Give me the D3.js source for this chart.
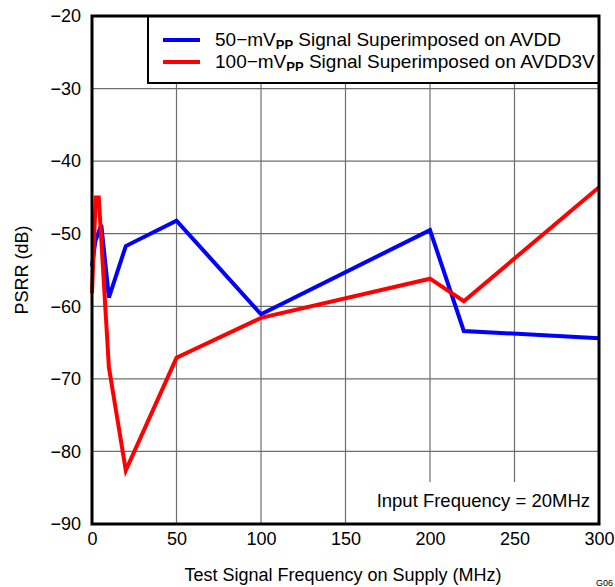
<!DOCTYPE html>
<html><head><meta charset="utf-8">
<script src="https://cdn.jsdelivr.net/npm/d3@7"></script>
<style>body{margin:0;background:#fff;} svg{display:block;font-family:"Liberation Sans",Arial,sans-serif;}</style>
</head><body>
<svg id="c" width="615" height="587"></svg>
<script>
const blueFreq = [0, 2, 5.5, 10, 20, 50, 100, 200, 220, 300];
const blueVals = [-54.5, -51, -48.8, -58.8, -51.7, -48.2, -61.1, -49.5, -63.4, -64.4];
const redFreq = [0, 2.2, 4, 10, 20, 50, 100, 200, 220, 300];
const redVals = [-58.2, -45, -45, -68.4, -82.6, -67.1, -61.6, -56.2, -59.3, -43.6];
const xTicks = [0, 50, 100, 150, 200, 250, 300];
const yTicks = [-90, -80, -70, -60, -50, -40, -30, -20];
const seriesNames = ["50\u2212mV", "100\u2212mV"];
const seriesTails = [" Signal Superimposed on AVDD", " Signal Superimposed on AVDD3V"];
const colors = ["#0000ff", "#ff0000"];

const svg = d3.select("#c");
const L = 92, R = 599, T = 16, B = 524;
const FS = 18;
const x = d3.scaleLinear().domain([0, 300]).range([L, R]);
const y = d3.scaleLinear().domain([-90, -20]).range([B, T]);

// grid
svg.append("g").selectAll("line").data(xTicks.slice(1, -1)).join("line")
  .attr("x1", d => x(d)).attr("x2", d => x(d)).attr("y1", T).attr("y2", B)
  .attr("stroke", "#6e6e6e").attr("stroke-width", 1.2);
svg.append("g").selectAll("line").data(yTicks.slice(1, -1)).join("line")
  .attr("x1", L).attr("x2", R).attr("y1", d => y(d)).attr("y2", d => y(d))
  .attr("stroke", "#6e6e6e").attr("stroke-width", 1.2);

// white annotation box
svg.append("rect").attr("x", 366).attr("y", 482).attr("width", R - 366).attr("height", B - 482).attr("fill", "#fff");
svg.append("text").attr("x", 590).attr("y", 507).attr("text-anchor", "end")
  .attr("font-size", 18.5).text("Input Frequency = 20MHz");

// lines
const line = d3.line().x(d => x(d[0])).y(d => y(d[1]));
const blue = blueFreq.map((f, i) => [f, blueVals[i]]);
const red = redFreq.map((f, i) => [f, redVals[i]]);
svg.append("path").datum(blue).attr("d", line).attr("fill", "none")
  .attr("stroke", colors[0]).attr("stroke-width", 4).attr("stroke-linejoin", "miter");
svg.append("path").datum(red).attr("d", line).attr("fill", "none")
  .attr("stroke", colors[1]).attr("stroke-width", 4).attr("stroke-linejoin", "miter");

// legend
const lg = svg.append("g");
lg.append("rect").attr("x", 148).attr("y", T).attr("width", R - 148).attr("height", 83 - T)
  .attr("fill", "#fff").attr("stroke", "#000").attr("stroke-width", 2);
[0, 1].forEach(i => {
  const yy = 40 + i * 22;
  lg.append("line").attr("x1", 163).attr("x2", 200).attr("y1", yy).attr("y2", yy)
    .attr("stroke", colors[i]).attr("stroke-width", 4);
  const t = lg.append("text").attr("x", 215).attr("y", yy + 6).attr("font-size", 19);
  t.append("tspan").text(seriesNames[i]);
  t.append("tspan").attr("font-size", 13).attr("font-weight", "bold").attr("dy", 3).text("PP");
  t.append("tspan").attr("dy", -3).text(seriesTails[i]);
});

// frame
svg.append("rect").attr("x", L).attr("y", T).attr("width", R - L).attr("height", B - T)
  .attr("fill", "none").attr("stroke", "#000").attr("stroke-width", 3);

// axes
const fmt = d => d < 0 ? "\u2212" + Math.abs(d) : String(d);
const yAxis = svg.append("g").attr("transform", `translate(${L},0)`)
  .call(d3.axisLeft(y).tickValues(yTicks).tickFormat(fmt).tickSize(0).tickPadding(11));
yAxis.select(".domain").remove();
yAxis.selectAll("text").attr("font-size", FS).attr("font-family", "Liberation Sans, Arial, sans-serif").attr("fill", "#000");
const xAxis = svg.append("g").attr("transform", `translate(0,${B})`)
  .call(d3.axisBottom(x).tickValues(xTicks).tickFormat(fmt).tickSize(0).tickPadding(8));
xAxis.select(".domain").remove();
xAxis.selectAll("text").attr("font-size", FS).attr("font-family", "Liberation Sans, Arial, sans-serif").attr("fill", "#000");

// titles
svg.append("text").attr("x", 343).attr("y", 581).attr("text-anchor", "middle").attr("font-size", FS)
  .text("Test Signal Frequency on Supply (MHz)");
svg.append("text").attr("transform", `translate(28,${(T + B) / 2}) rotate(-90)`)
  .attr("text-anchor", "middle").attr("font-size", FS).text("PSRR (dB)");
svg.append("text").attr("x", 596).attr("y", 586).attr("font-size", 9).text("G06");
</script>
</body></html>
